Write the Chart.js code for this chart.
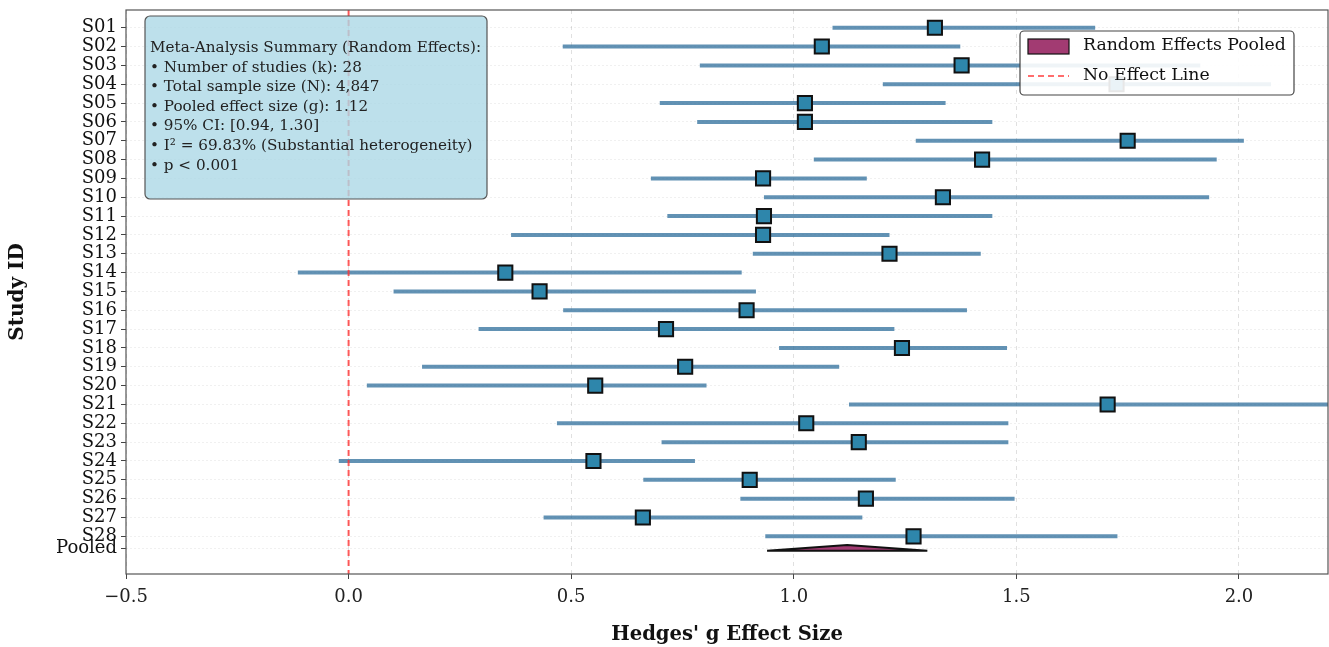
<!DOCTYPE html>
<html>
<head>
<meta charset="utf-8">
<script src="https://cdn.jsdelivr.net/npm/chart.js@4.4.0/dist/chart.umd.min.js"></script>
<style>
  body { margin: 0; background: #fff; }
  #wrap { width: 1329px; height: 647px; }
</style>
</head>
<body>
<div id="wrap"><canvas id="forest" width="1329" height="647"></canvas></div>
<script>
// study data (Hedges' g with 95% CI)
const studyIds = ['S01', 'S02', 'S03', 'S04', 'S05', 'S06', 'S07', 'S08', 'S09', 'S10',
  'S11', 'S12', 'S13', 'S14', 'S15', 'S16', 'S17', 'S18', 'S19', 'S20',
  'S21', 'S22', 'S23', 'S24', 'S25', 'S26', 'S27', 'S28'];
const effectSizes = [1.317, 1.063, 1.377, 1.725, 1.025, 1.025, 1.750, 1.423, 0.931, 1.335,
  0.933, 0.931, 1.215, 0.352, 0.429, 0.894, 0.713, 1.243, 0.756, 0.554,
  1.705, 1.028, 1.146, 0.550, 0.901, 1.162, 0.661, 1.269];
const ciLower = [1.087, 0.481, 0.789, 1.200, 0.699, 0.783, 1.274, 1.045, 0.679, 0.933,
  0.716, 0.365, 0.908, -0.114, 0.101, 0.482, 0.292, 0.967, 0.165, 0.041,
  1.124, 0.468, 0.703, -0.022, 0.662, 0.880, 0.438, 0.936];
const ciUpper = [1.677, 1.374, 1.913, 2.072, 1.341, 1.446, 2.011, 1.950, 1.164, 1.933,
  1.446, 1.215, 1.420, 0.883, 0.915, 1.389, 1.226, 1.479, 1.102, 0.804,
  2.290, 1.482, 1.482, 0.778, 1.229, 1.496, 1.154, 1.727];
const pooledEffect = 1.12;
const pooledCI = [0.94, 1.30];
const xTickValues = [-0.5, 0.0, 0.5, 1.0, 1.5, 2.0];
const summaryLines = [
  'Meta-Analysis Summary (Random Effects):',
  '\u2022 Number of studies (k): 28',
  '\u2022 Total sample size (N): 4,847',
  '\u2022 Pooled effect size (g): 1.12',
  '\u2022 95% CI: [0.94, 1.30]',
  '\u2022 I\u00b2 = 69.83% (Substantial heterogeneity)',
  '\u2022 p < 0.001'
];

const SERIF = '"DejaVu Serif", "Liberation Serif", serif';
const BLUE = '#2E86AB';
const PURPLE = '#A23B72';

// y positions: one row per study, pooled row a bit below the last study
const pooledY = studyIds.length - 1 + 0.62;
const yTickValues = studyIds.map((s, i) => i).concat([pooledY]);
const yLabels = studyIds.concat(['Pooled']);

const ciData = [];
studyIds.forEach((s, i) => {
  ciData.push({ x: ciLower[i], y: i }, { x: ciUpper[i], y: i }, { x: null, y: null });
});
const pointData = studyIds.map((s, i) => ({ x: effectSizes[i], y: i }));
const diamondData = [
  { x: pooledCI[0], y: pooledY + 0.14 },
  { x: pooledEffect, y: pooledY - 0.16 },
  { x: pooledCI[1], y: pooledY + 0.14 },
  { x: pooledEffect, y: pooledY + 0.15 },
  { x: pooledCI[0], y: pooledY + 0.14 }
];

function fmtTick(v) {
  const s = Math.abs(v).toFixed(1);
  return v < 0 ? '\u2212' + s : s;
}

// summary box, legend and axes frame
const overlay = {
  id: 'overlay',
  afterDraw(chart) {
    const ctx = chart.ctx;
    const a = chart.chartArea;
    ctx.save();
    ctx.setLineDash([]);
    ctx.strokeStyle = '#555';
    ctx.lineWidth = 1.2;
    ctx.strokeRect(a.left, a.top, a.right - a.left, a.bottom - a.top);

    // summary box
    ctx.beginPath();
    ctx.roundRect(145, 16, 342, 183, 5);
    ctx.fillStyle = 'rgba(173,216,230,0.8)';
    ctx.fill();
    ctx.strokeStyle = '#555';
    ctx.lineWidth = 1.2;
    ctx.stroke();
    ctx.fillStyle = '#222';
    ctx.font = '15.2px ' + SERIF;
    ctx.textBaseline = 'middle';
    summaryLines.forEach((t, i) => ctx.fillText(t, 150, 48 + i * 19.6));

    // legend
    ctx.beginPath();
    ctx.roundRect(1020, 31, 274, 64, 4);
    ctx.fillStyle = 'rgba(255,255,255,0.9)';
    ctx.fill();
    ctx.strokeStyle = '#444';
    ctx.lineWidth = 1.2;
    ctx.stroke();
    ctx.fillStyle = PURPLE;
    ctx.fillRect(1028, 39, 41, 15);
    ctx.strokeStyle = '#111';
    ctx.strokeRect(1028, 39, 41, 15);
    ctx.strokeStyle = 'rgba(255,60,60,0.75)';
    ctx.lineWidth = 2;
    ctx.setLineDash([6, 4]);
    ctx.beginPath();
    ctx.moveTo(1028, 76);
    ctx.lineTo(1069, 76);
    ctx.stroke();
    ctx.setLineDash([]);
    ctx.fillStyle = '#111';
    ctx.font = '17.3px ' + SERIF;
    ctx.fillText('Random Effects Pooled', 1083, 46);
    ctx.fillText('No Effect Line', 1083, 76);
    ctx.restore();
  }
};

const ctx = document.getElementById('forest').getContext('2d');
const forestChart = new Chart(ctx, {
  type: 'scatter',
  data: {
    datasets: [
      {
        label: 'Studies',
        data: pointData,
        pointStyle: 'rect',
        pointRadius: 10,
        backgroundColor: BLUE,
        borderColor: '#111',
        borderWidth: 2,
        order: 0
      },
      {
        label: 'No Effect Line',
        data: [{ x: 0, y: -2 }, { x: 0, y: 31 }],
        showLine: true,
        pointRadius: 0,
        borderColor: 'rgba(255,50,50,0.8)',
        borderWidth: 2,
        borderDash: [6, 4],
        order: 1
      },
      {
        label: 'Random Effects Pooled',
        data: diamondData,
        showLine: true,
        fill: 'shape',
        pointRadius: 0,
        tension: 0,
        backgroundColor: PURPLE,
        borderColor: '#111',
        borderWidth: 2,
        order: 2
      },
      {
        label: 'CI',
        data: ciData,
        showLine: true,
        spanGaps: false,
        pointRadius: 0,
        borderColor: 'rgba(46,110,155,0.75)',
        borderWidth: 4,
        borderCapStyle: 'butt',
        order: 3
      }
    ]
  },
  options: {
    responsive: false,
    animation: false,
    layout: { autoPadding: false, padding: { top: 10, right: 1, left: 0, bottom: 0 } },
    plugins: {
      legend: { display: false },
      tooltip: { enabled: false }
    },
    scales: {
      x: {
        type: 'linear',
        min: -0.5,
        max: 2.2,
        afterBuildTicks: (scale) => { scale.ticks = xTickValues.map(v => ({ value: v })); },
        afterFit: (scale) => {
          scale.height = 73;
          scale.paddingLeft = 0;
          scale.paddingRight = 0;
        },
        ticks: {
          callback: (v) => fmtTick(v),
          font: { family: SERIF, size: 18 },
          color: '#222',
          padding: 8,
          maxRotation: 0
        },
        grid: {
          color: 'rgba(0,0,0,0.12)',
          tickColor: '#444',
          tickLength: 5,
          tickBorderDash: [20, 0]
        },
        border: { display: false, dash: [4, 4] },
        title: {
          display: true,
          text: "Hedges' g Effect Size",
          font: { family: SERIF, size: 19.6, weight: 'bold' },
          color: '#111',
          padding: { top: 0, bottom: 0 }
        }
      },
      y: {
        type: 'linear',
        reverse: true,
        min: -0.94,
        max: 29.0,
        afterBuildTicks: (scale) => { scale.ticks = yTickValues.map(v => ({ value: v })); },
        afterFit: (scale) => {
          scale.width = 126;
          scale.paddingTop = 0;
          scale.paddingBottom = 0;
        },
        ticks: {
          callback: (v, i) => yLabels[i],
          font: { family: SERIF, size: 18 },
          color: '#111',
          padding: 4,
          autoSkip: false
        },
        grid: {
          color: 'rgba(0,0,0,0.06)',
          tickColor: '#444',
          tickLength: 5,
          tickBorderDash: [20, 0]
        },
        border: { display: false, dash: [2, 2] },
        title: {
          display: true,
          text: 'Study ID',
          font: { family: SERIF, size: 20, weight: 'bold' },
          color: '#111',
          padding: { top: 6, bottom: 0 }
        }
      }
    }
  },
  plugins: [overlay]
});
</script>
</body>
</html>
